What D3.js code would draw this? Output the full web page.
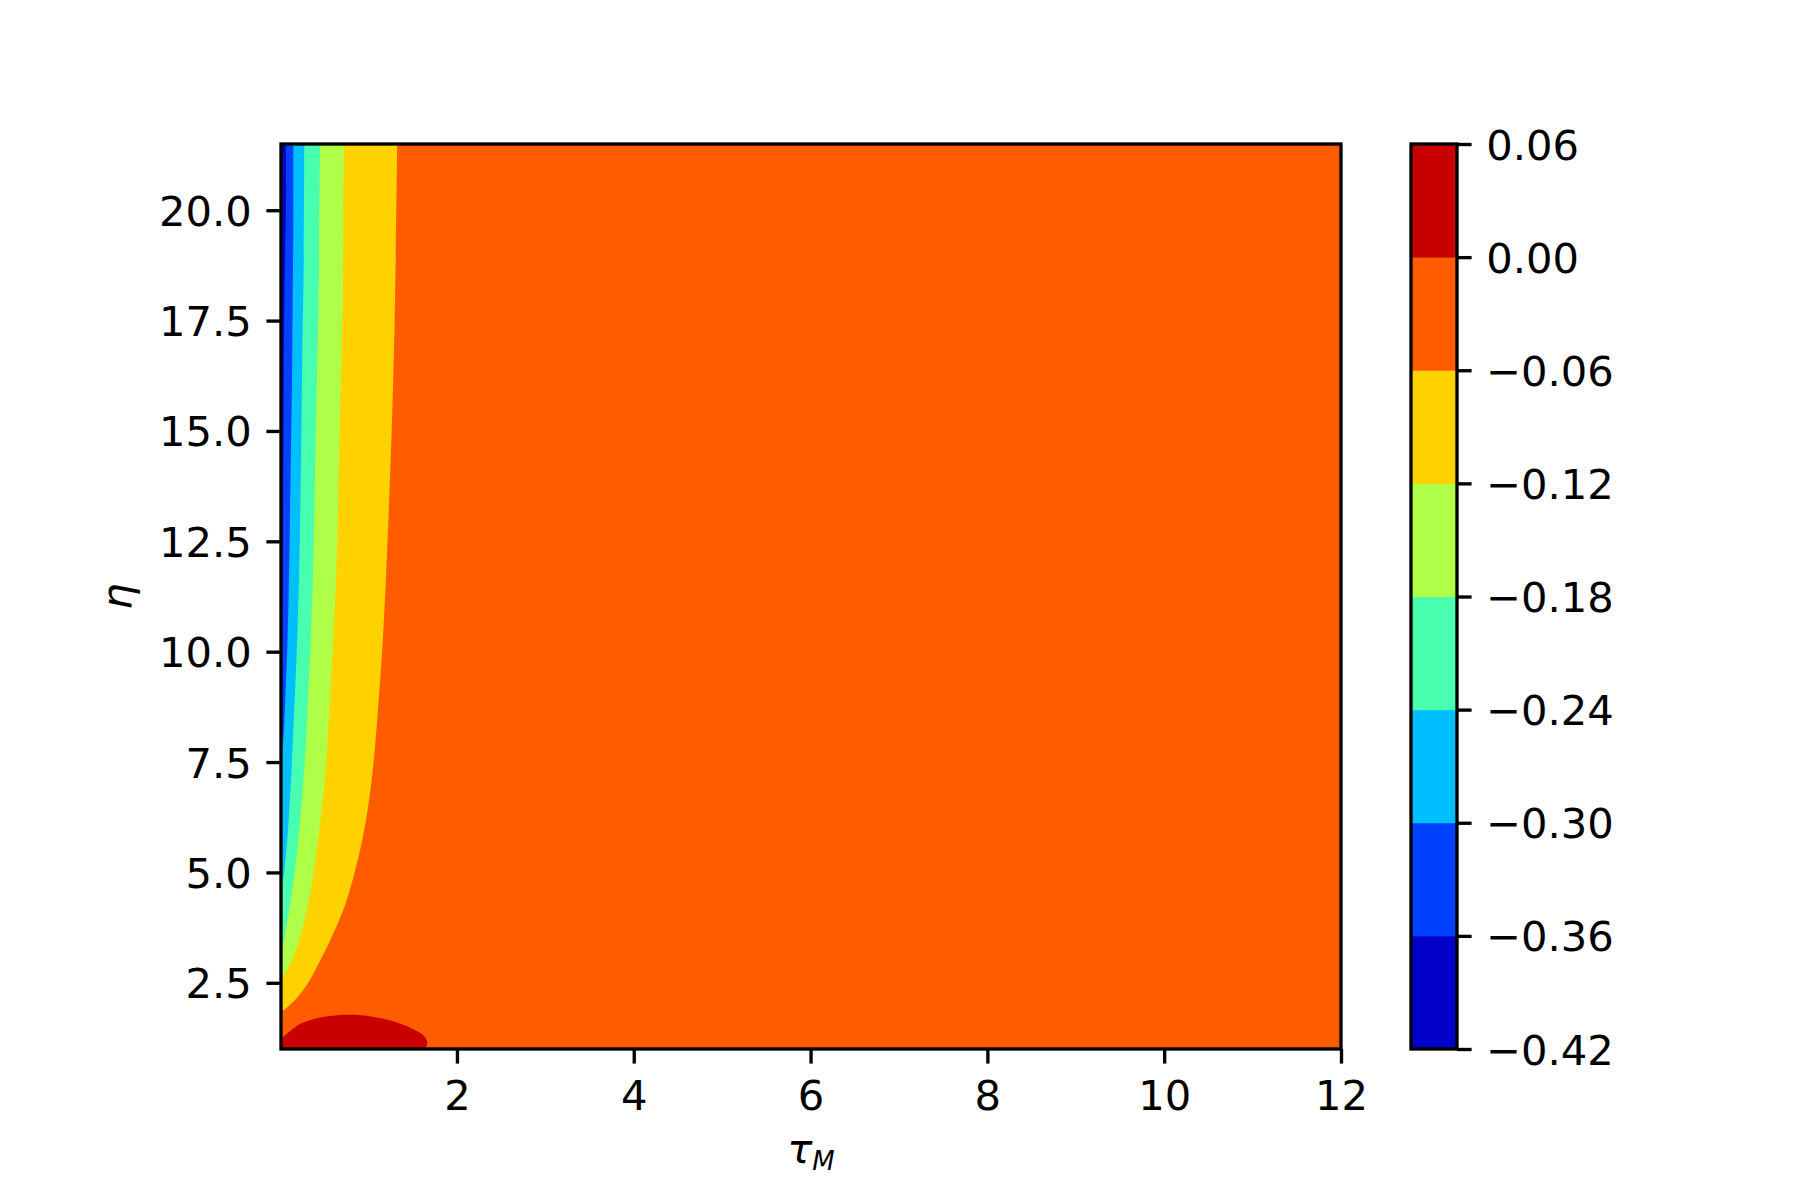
<!DOCTYPE html>
<html><head><meta charset="utf-8">
<script src="https://cdn.jsdelivr.net/npm/d3@7"></script>
<style>
body{margin:0;background:#fff}
svg{display:block}
text{font-family:"DejaVu Sans",sans-serif;fill:#000}
</style>
</head><body>
<svg id="chart" width="1800" height="1200"></svg>
<script>
// ---------- data ----------
const tauDomain = [0.01, 12];
const etaDomain = [1, 21.5];
const xTicks = [2, 4, 6, 8, 10, 12];
const yTicks = [2.5, 5, 7.5, 10, 12.5, 15, 17.5, 20];
const levels = [-0.42, -0.36, -0.30, -0.24, -0.18, -0.12, -0.06, 0.00, 0.06];
const bandColors = ["#0000c8", "#0040ff", "#00bfff", "#48ffaf", "#afff48", "#ffd200", "#ff5c00", "#c80000"];

// contour boundary at -0.06 (tau as a function of eta)
const etaB1 = [21.5, 17.97, 15.25, 12.08, 10.2, 8.91, 8.0, 7.25, 6.48, 5.74, 4.99, 4.22, 3.47, 3.02, 2.56, 2.18, 1.88, 1.86];
const tauB1 = [1.325, 1.30, 1.266, 1.206, 1.16, 1.115, 1.08, 1.045, 0.995, 0.93, 0.842, 0.728, 0.568, 0.458, 0.335, 0.198, 0.04, 0.01];
// -0.12
const etaB2 = [21.5, 19.78, 17.97, 15.25, 12.08, 10.2, 8.91, 8.0, 7.25, 6.48, 5.74, 4.99, 4.22, 3.47, 3.02, 2.75, 2.56];
const tauB2 = [0.723, 0.715, 0.708, 0.677, 0.640, 0.598, 0.562, 0.538, 0.510, 0.474, 0.430, 0.378, 0.312, 0.215, 0.135, 0.07, 0.01];
// -0.18
const etaB3 = [21.5, 17.97, 15.25, 12.08, 10.2, 8.91, 8.0, 7.25, 6.48, 5.74, 4.99, 4.22, 3.47, 3.18];
const tauB3 = [0.451, 0.436, 0.406, 0.375, 0.345, 0.314, 0.293, 0.270, 0.240, 0.204, 0.162, 0.108, 0.044, 0.01];
// -0.24
const etaB4 = [21.5, 19.0, 16.6, 15.25, 12.08, 10.2, 8.91, 8.0, 7.25, 6.48, 5.74, 4.99, 4.6];
const tauB4 = [0.274, 0.268, 0.250, 0.242, 0.218, 0.192, 0.164, 0.144, 0.127, 0.106, 0.081, 0.044, 0.01];
// -0.30
const etaB5 = [21.5, 19.5, 18.0, 16.0, 15.25, 12.08, 10.2, 8.91, 8.0, 7.6];
const tauB5 = [0.149, 0.149, 0.142, 0.134, 0.128, 0.104, 0.083, 0.058, 0.036, 0.01];
// -0.36
const etaB6 = [21.5, 20.0, 18.9, 17.06, 15.0, 12.5, 10.5, 9.0];
const tauB6 = [0.067, 0.067, 0.055, 0.044, 0.038, 0.03, 0.022, 0.01];
// 0.00 (closed lobe above zero near the bottom)
const etaR = [1.21, 1.30, 1.43, 1.56, 1.66, 1.73, 1.765, 1.775, 1.765, 1.72, 1.66, 1.57, 1.47, 1.28, 1.13, 1.0];
const tauR = [0.01, 0.05, 0.127, 0.22, 0.353, 0.5, 0.655, 0.78, 0.918, 1.08, 1.22, 1.36, 1.484, 1.636, 1.665, 1.636];

// ---------- layout ----------
const FS = 41.67, LW = 3.33, TL = 14.6, PAD = 14.6;
const plot = {l: 281, r: 1341, t: 144, b: 1049};
const cb = {l: 1411, r: 1457, t: 144, b: 1049};

const svg = d3.select("#chart");
const x = d3.scaleLinear().domain(tauDomain).range([plot.l, plot.r]);
const y = d3.scaleLinear().domain(etaDomain).range([plot.b, plot.t]);

svg.append("defs").append("clipPath").attr("id", "clip")
  .append("rect").attr("x", plot.l).attr("y", plot.t)
  .attr("width", plot.r - plot.l).attr("height", plot.b - plot.t);

const g = svg.append("g").attr("clip-path", "url(#clip)");

// base band (-0.06 .. 0)
g.append("rect").attr("x", plot.l).attr("y", plot.t)
  .attr("width", plot.r - plot.l).attr("height", plot.b - plot.t)
  .attr("fill", bandColors[6]);

const boundaries = [
  {level: -0.06, eta: etaB1, tau: tauB1},
  {level: -0.12, eta: etaB2, tau: tauB2},
  {level: -0.18, eta: etaB3, tau: tauB3},
  {level: -0.24, eta: etaB4, tau: tauB4},
  {level: -0.30, eta: etaB5, tau: tauB5},
  {level: -0.36, eta: etaB6, tau: tauB6}
];

const area = d3.area()
  .curve(d3.curveCatmullRom.alpha(0.5))
  .y(d => y(d.eta))
  .x0(x(tauDomain[0]) - 3)
  .x1(d => x(d.tau));

boundaries.forEach(bd => {
  const pts = bd.eta.map((e, i) => ({eta: e, tau: bd.tau[i]}));
  const idx = levels.findIndex(l => Math.abs(l - bd.level) < 1e-9);
  g.append("path").attr("d", area(pts)).attr("fill", bandColors[idx - 1]);
});

// red lobe (> 0)
const redPts = etaR.map((e, i) => [x(tauR[i]), y(e)]);
const redLine = d3.line().curve(d3.curveCatmullRom);
g.append("path")
  .attr("d", redLine(redPts) + `L${x(tauR[tauR.length - 1])},${y(etaDomain[0]) + 3}L${x(tauDomain[0]) - 3},${y(etaDomain[0]) + 3}L${x(tauDomain[0]) - 3},${y(etaR[0])}Z`)
  .attr("fill", bandColors[7]);

// axes
const xAxis = d3.axisBottom(x).tickValues(xTicks).tickSize(TL).tickPadding(PAD).tickFormat(d3.format("d"));
const gx = svg.append("g").attr("transform", `translate(0,${plot.b})`).call(xAxis);
const yAxis = d3.axisLeft(y).tickValues(yTicks).tickSize(TL).tickPadding(PAD).tickFormat(d3.format(".1f"));
const gy = svg.append("g").attr("transform", `translate(${plot.l},0)`).call(yAxis);
[gx, gy].forEach(a => {
  a.select(".domain").remove();
  a.selectAll(".tick line").attr("stroke", "#000").attr("stroke-width", LW);
  a.selectAll(".tick text").attr("font-size", FS).attr("font-family", "DejaVu Sans").attr("fill", "#000");
});
gx.selectAll(".tick text").attr("dy", "0.76em");
gy.selectAll(".tick text").attr("dy", "0.36em");

// spines
svg.append("rect").attr("x", plot.l).attr("y", plot.t)
  .attr("width", plot.r - plot.l).attr("height", plot.b - plot.t)
  .attr("fill", "none").attr("stroke", "#000").attr("stroke-width", LW);

// axis labels
const xl = svg.append("text").attr("x", (plot.l + plot.r) / 2).attr("y", 1163)
  .attr("text-anchor", "middle").attr("font-size", FS);
xl.append("tspan").attr("font-style", "italic").text("τ");
xl.append("tspan").attr("font-style", "italic").attr("font-size", 26).attr("dy", 7).text("M");

svg.append("text")
  .attr("transform", `translate(131,${(plot.t + plot.b) / 2}) rotate(-90)`)
  .attr("text-anchor", "middle").attr("font-size", FS).attr("font-style", "italic")
  .text("η");

// colorbar
const cy = d3.scaleLinear().domain([levels[0], levels[levels.length - 1]]).range([cb.b, cb.t]);
svg.append("g").selectAll("rect").data(bandColors).join("rect")
  .attr("x", cb.l).attr("width", cb.r - cb.l)
  .attr("y", (c, i) => cy(levels[i + 1]))
  .attr("height", (c, i) => cy(levels[i]) - cy(levels[i + 1]) + 0.5)
  .attr("fill", c => c);
svg.append("rect").attr("x", cb.l).attr("y", cb.t)
  .attr("width", cb.r - cb.l).attr("height", cb.b - cb.t)
  .attr("fill", "none").attr("stroke", "#000").attr("stroke-width", LW);
const cAxis = d3.axisRight(cy).tickValues(levels).tickSize(TL).tickPadding(PAD).tickFormat(d3.format(".2f"));
const gc = svg.append("g").attr("transform", `translate(${cb.r},0)`).call(cAxis);
gc.select(".domain").remove();
gc.selectAll(".tick line").attr("stroke", "#000").attr("stroke-width", LW);
gc.selectAll(".tick text").attr("font-size", FS).attr("font-family", "DejaVu Sans").attr("fill", "#000").attr("dy", "0.36em");
</script>
</body></html>
